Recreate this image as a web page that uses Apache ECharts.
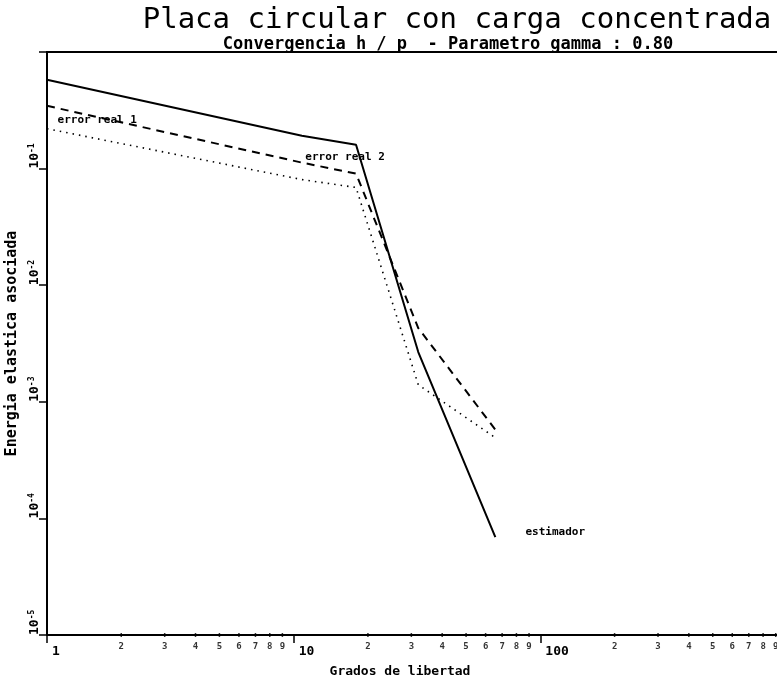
<!DOCTYPE html>
<html><head><meta charset="utf-8">
<script src="https://cdn.jsdelivr.net/npm/echarts@6/dist/echarts.min.js"></script>
<style>html,body{margin:0;padding:0;background:#fff}#c{width:777px;height:679px}</style>
</head><body><div id="c"></div>
<script>
// ---- data ----
const dof = [1, 10.8, 17.9, 32, 65.7];
const estimador = [0.577, 0.191, 0.160, 0.00267, 0.000069];
const errorReal1 = [0.3455, 0.1125, 0.0906, 0.00429, 0.000577];
const errorReal2 = [0.2198, 0.0805, 0.0689, 0.0014, 0.000492];
const xMajorLabels = ['1', '10', '100'];
const xMinorTicks = [2,3,4,5,6,7,8,9,20,30,40,50,60,70,80,90,200,300,400,500,600,700,800,900];
const yTickExponents = [-5, -4, -3, -2, -1];

const FONT = 'DejaVu Sans Mono';
const pairs = ys => dof.map((x, i) => [x, ys[i]]);
const txt = (size, weight) => ({fontFamily: FONT, fontSize: size, fontWeight: weight || 'bold', color: '#000'});

const chart = echarts.init(document.getElementById('c'), null, {renderer: 'canvas'});
chart.setOption({
  animation: false,
  backgroundColor: '#fff',
  title: [
    {text: 'Placa circular con carga concentrada', left: 452, top: 1, textAlign: 'center',
     textStyle: txt(29, 'normal')},
    {text: 'Convergencia h / p  - Parametro gamma : 0.80', left: 443, top: 31, textAlign: 'center',
     textStyle: txt(17, 'bold')}
  ],
  grid: {left: 47, right: -10, top: 52, bottom: 44, show: true, borderColor: '#000', borderWidth: 2,
         containLabel: false, outerBoundsMode: 'none'},
  xAxis: {
    type: 'log', logBase: 10, min: 1, max: 1000, interval: 1,
    name: 'Grados de libertad', nameLocation: 'middle', nameGap: 30,
    nameTextStyle: Object.assign(txt(13), {padding: [0, 34, 0, 0]}),
    axisLine: {lineStyle: {color: '#000', width: 2}},
    axisTick: {length: 8, lineStyle: {color: '#000', width: 1.5}},
    axisLabel: {
      formatter: v => { const s = String(Math.round(v)); return xMajorLabels.includes(s) ? s : ''; },
      align: 'left', padding: [0, 0, 0, 5], margin: 10, ...txt(13)
    },
    splitLine: {show: false}
  },
  yAxis: {
    type: 'log', logBase: 10, min: 1e-5, max: 1, interval: 1,
    name: 'Energia elastica asociada', nameLocation: 'middle', nameGap: 25,
    nameTextStyle: txt(15),
    axisLine: {lineStyle: {color: '#000', width: 2}},
    axisTick: {length: 8, lineStyle: {color: '#000', width: 1.5}},
    axisLabel: {
      rotate: 90, align: 'left', verticalAlign: 'bottom', margin: 6,
      formatter: v => { const e = Math.round(Math.log10(v)); return yTickExponents.includes(e) ? '{b|10}{s|' + e + '}' : ''; },
      rich: {
        b: {fontFamily: FONT, fontSize: 13, fontWeight: 'bold', color: '#000'},
        s: {fontFamily: FONT, fontSize: 8, fontWeight: 'bold', color: '#000', verticalAlign: 'top'}
      }
    },
    splitLine: {show: false}
  },
  series: [
    {
      name: 'estimador', type: 'line', data: pairs(estimador), symbol: 'none',
      lineStyle: {color: '#000', width: 2}, z: 3,
      markPoint: {symbol: 'circle', symbolSize: 1, itemStyle: {color: 'rgba(0,0,0,0)'},
        label: {show: true, position: 'right', distance: 0, formatter: 'estimador', ...txt(11)},
        data: [{coord: [86.6, 7.6e-5]}]}
    },
    {
      name: 'error real 1', type: 'line', data: pairs(errorReal1), symbol: 'none',
      lineStyle: {color: '#000', width: 2, type: [8, 6]}, z: 2,
      markPoint: {symbol: 'circle', symbolSize: 1, itemStyle: {color: 'rgba(0,0,0,0)'},
        label: {show: true, position: 'right', distance: 0, formatter: 'error real 1', ...txt(11)},
        data: [{coord: [1.098, 0.258]}]}
    },
    {
      name: 'error real 2', type: 'line', data: pairs(errorReal2), symbol: 'none',
      lineStyle: {color: '#000', width: 1.6, type: [1.5, 5]}, z: 2,
      markPoint: {symbol: 'circle', symbolSize: 1, itemStyle: {color: 'rgba(0,0,0,0)'},
        label: {show: true, position: 'right', distance: 0, formatter: 'error real 2', ...txt(11)},
        data: [{coord: [11.1, 0.126]}]}
    },
    {
      name: 'minor ticks', type: 'scatter', silent: true, clip: false, z: 5,
      data: xMinorTicks.map(v => [v, 1e-5]),
      symbol: 'rect', symbolSize: [1.5, 4], itemStyle: {color: '#000'},
      label: {show: true, position: 'bottom', distance: 5,
        formatter: p => String(p.value[0]).charAt(0), ...txt(9)}
    }
  ]
});
</script></body></html>
